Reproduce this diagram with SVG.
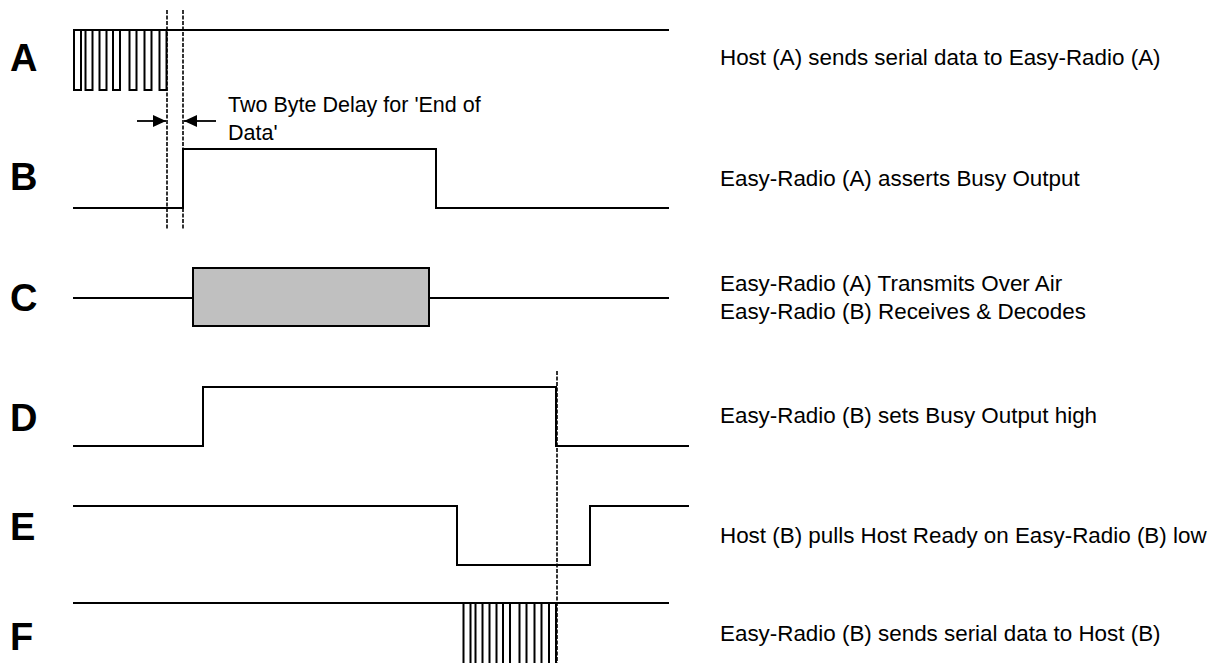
<svg xmlns="http://www.w3.org/2000/svg" width="1217" height="663" viewBox="0 0 1217 663">
<style>
.w{fill:none;stroke:#000;stroke-width:2;stroke-linejoin:miter;stroke-linecap:square}
.p{fill:none;stroke:#000;stroke-width:2}
.d{fill:none;stroke:#000;stroke-width:1.6;stroke-dasharray:4,1.5}
.lbl{font-family:"Liberation Sans",Arial,sans-serif;font-weight:bold;font-size:38px;fill:#000}
.t{font-family:"Liberation Sans",Arial,sans-serif;font-size:22.4px;fill:#000}
.a{fill:none;stroke:#000;stroke-width:1.8}
</style>
<defs>
<marker id="ah" viewBox="0 0 13 12" refX="13" refY="6" markerWidth="13" markerHeight="12" markerUnits="userSpaceOnUse" orient="auto">
<path d="M0,0 L13,6 L0,12 Z" fill="#000"/>
</marker>
</defs>
<rect width="1217" height="663" fill="#fff"/>

<g id="A">
<text class="lbl" x="10" y="71">A</text>
<line class="w" x1="74" y1="30" x2="668" y2="30"/>
<rect class="p" x="74" y="30" width="7" height="60"/>
<rect class="p" x="85.5" y="30" width="7" height="60"/>
<rect class="p" x="99.5" y="30" width="7" height="60"/>
<rect class="p" x="113" y="30" width="7" height="60"/>
<rect class="p" x="129.5" y="30" width="7" height="60"/>
<rect class="p" x="144.5" y="30" width="7" height="60"/>
<rect class="p" x="159.5" y="30" width="7" height="60"/>
<text class="t" x="720" y="65">Host (A) sends serial data to Easy-Radio (A)</text>
</g>

<g id="B">
<text class="lbl" x="10" y="190">B</text>
<polyline class="w" points="74,208 183,208 183,149 436,149 436,208 668,208"/>
<text class="t" x="720" y="186">Easy-Radio (A) asserts Busy Output</text>
</g>

<g id="C">
<text class="lbl" x="10" y="311">C</text>
<line class="w" x1="74" y1="298" x2="193" y2="298"/>
<line class="w" x1="429" y1="298" x2="668" y2="298"/>
<rect x="193" y="268" width="236" height="58" fill="#c0c0c0" stroke="#000" stroke-width="2"/>
<text class="t" x="720" y="291">Easy-Radio (A) Transmits Over Air</text>
<text class="t" x="720" y="319">Easy-Radio (B) Receives &amp; Decodes</text>
</g>

<g id="D">
<text class="lbl" x="10" y="431">D</text>
<polyline class="w" points="74,446 203,446 203,387 556,387 556,446 688,446"/>
<text class="t" x="720" y="423">Easy-Radio (B) sets Busy Output high</text>
</g>

<g id="E">
<text class="lbl" x="10" y="540">E</text>
<polyline class="w" points="74,506 457,506 457,565 590,565 590,506 688,506"/>
<text class="t" x="720" y="543">Host (B) pulls Host Ready on Easy-Radio (B) low</text>
</g>

<g id="F">
<text class="lbl" x="10" y="650">F</text>
<line class="w" x1="74" y1="603" x2="668" y2="603"/>
<rect class="p" x="463.5" y="603" width="7" height="70"/>
<rect class="p" x="475.5" y="603" width="7" height="70"/>
<rect class="p" x="489.5" y="603" width="7" height="70"/>
<rect class="p" x="503" y="603" width="7" height="70"/>
<rect class="p" x="519.5" y="603" width="7" height="70"/>
<rect class="p" x="534.5" y="603" width="7" height="70"/>
<rect class="p" x="549" y="603" width="7" height="70"/>
<text class="t" x="720" y="641">Easy-Radio (B) sends serial data to Host (B)</text>
</g>

<g id="connectors">
<line class="d" x1="167" y1="10" x2="167" y2="229"/>
<line class="d" x1="183" y1="10" x2="183" y2="229"/>
<line class="d" x1="557" y1="371" x2="557" y2="663"/>
<line class="a" x1="137" y1="121" x2="166" y2="121" marker-end="url(#ah)"/>
<line class="a" x1="216" y1="121" x2="184" y2="121" marker-end="url(#ah)"/>
</g>

<g id="delay-label">
<text class="t" x="228" y="112" style="font-size:21.5px">Two Byte Delay for 'End of</text>
<text class="t" x="228" y="140" style="font-size:21.5px">Data'</text>
</g>
</svg>
